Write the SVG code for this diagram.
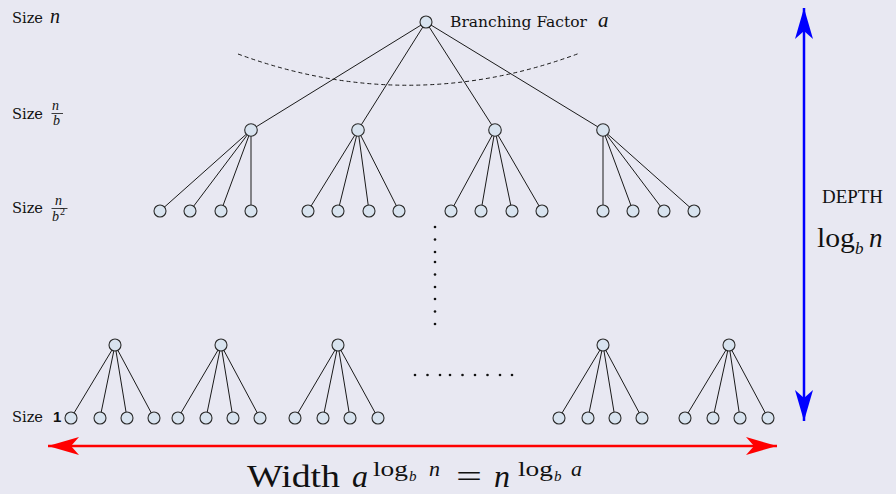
<svg xmlns="http://www.w3.org/2000/svg" width="896" height="494" viewBox="0 0 896 494">
<defs>
<style>
.edge{stroke:#1a1a1a;stroke-width:1;fill:none}
.node{fill:#d8e3ef;stroke:#2a2a2a;stroke-width:1.1}
.lbl{font-family:"DejaVu Serif","Liberation Serif",serif;font-size:15px;fill:#111}
.math{font-family:"Liberation Serif","DejaVu Serif",serif;fill:#111}
.it{font-style:italic}
.dot{fill:#111}
</style>
<marker id="ared" viewBox="0 -10 32 20" refX="31" refY="0" markerWidth="32" markerHeight="20" markerUnits="userSpaceOnUse" orient="auto-start-reverse">
<path d="M31 0 L0 -9 L8 0 L0 9 Z" fill="#ff0000"/>
</marker>
<marker id="ablue" viewBox="0 -10 32 20" refX="31" refY="0" markerWidth="32" markerHeight="20" markerUnits="userSpaceOnUse" orient="auto-start-reverse">
<path d="M31 0 L0 -9 L8 0 L0 9 Z" fill="#0000ff"/>
</marker>
</defs>
<rect width="896" height="494" fill="#e8e8f2"/>

<g id="connectors">
<path class="edge" d="M238 54 Q409 117 580 53" stroke-dasharray="4 3"/>
<line class="edge" x1="426" y1="22" x2="251" y2="130"/>
<line class="edge" x1="426" y1="22" x2="358" y2="130"/>
<line class="edge" x1="426" y1="22" x2="495" y2="130"/>
<line class="edge" x1="426" y1="22" x2="603" y2="130"/>
<line class="edge" x1="251" y1="130" x2="160" y2="211"/>
<line class="edge" x1="251" y1="130" x2="190" y2="211"/>
<line class="edge" x1="251" y1="130" x2="221" y2="211"/>
<line class="edge" x1="251" y1="130" x2="251" y2="211"/>
<line class="edge" x1="358" y1="130" x2="308" y2="211"/>
<line class="edge" x1="358" y1="130" x2="338" y2="211"/>
<line class="edge" x1="358" y1="130" x2="369" y2="211"/>
<line class="edge" x1="358" y1="130" x2="399" y2="211"/>
<line class="edge" x1="495" y1="130" x2="451" y2="211"/>
<line class="edge" x1="495" y1="130" x2="481" y2="211"/>
<line class="edge" x1="495" y1="130" x2="512" y2="211"/>
<line class="edge" x1="495" y1="130" x2="542" y2="211"/>
<line class="edge" x1="603" y1="130" x2="603" y2="211"/>
<line class="edge" x1="603" y1="130" x2="633" y2="211"/>
<line class="edge" x1="603" y1="130" x2="664" y2="211"/>
<line class="edge" x1="603" y1="130" x2="694" y2="211"/>
<line class="edge" x1="115" y1="345" x2="71" y2="418"/>
<line class="edge" x1="115" y1="345" x2="100" y2="418"/>
<line class="edge" x1="115" y1="345" x2="127" y2="418"/>
<line class="edge" x1="115" y1="345" x2="154" y2="418"/>
<line class="edge" x1="221" y1="345" x2="178" y2="418"/>
<line class="edge" x1="221" y1="345" x2="206" y2="418"/>
<line class="edge" x1="221" y1="345" x2="233" y2="418"/>
<line class="edge" x1="221" y1="345" x2="260" y2="418"/>
<line class="edge" x1="338" y1="345" x2="295" y2="418"/>
<line class="edge" x1="338" y1="345" x2="323" y2="418"/>
<line class="edge" x1="338" y1="345" x2="350" y2="418"/>
<line class="edge" x1="338" y1="345" x2="378" y2="418"/>
<line class="edge" x1="603" y1="345" x2="559" y2="418"/>
<line class="edge" x1="603" y1="345" x2="588" y2="418"/>
<line class="edge" x1="603" y1="345" x2="615" y2="418"/>
<line class="edge" x1="603" y1="345" x2="642" y2="418"/>
<line class="edge" x1="729" y1="345" x2="685" y2="418"/>
<line class="edge" x1="729" y1="345" x2="713" y2="418"/>
<line class="edge" x1="729" y1="345" x2="740" y2="418"/>
<line class="edge" x1="729" y1="345" x2="768" y2="418"/>
<line x1="48" y1="446" x2="777" y2="446" stroke="#ff0000" stroke-width="2.5" marker-start="url(#ared)" marker-end="url(#ared)"/>
<line x1="804" y1="8" x2="804" y2="421" stroke="#0000ff" stroke-width="2.5" marker-start="url(#ablue)" marker-end="url(#ablue)"/>
</g>

<g id="dots">
<circle class="dot" cx="435" cy="227" r="1.3"/><circle class="dot" cx="435" cy="239.5" r="1.3"/><circle class="dot" cx="435" cy="252" r="1.3"/>
<circle class="dot" cx="435" cy="262" r="1.3"/><circle class="dot" cx="435" cy="274.5" r="1.3"/><circle class="dot" cx="435" cy="287" r="1.3"/>
<circle class="dot" cx="435" cy="299" r="1.3"/><circle class="dot" cx="435" cy="311.5" r="1.3"/><circle class="dot" cx="435" cy="324" r="1.3"/>
<circle class="dot" cx="415" cy="375" r="1.3"/><circle class="dot" cx="427.5" cy="375" r="1.3"/><circle class="dot" cx="440" cy="375" r="1.3"/>
<circle class="dot" cx="450" cy="375" r="1.3"/><circle class="dot" cx="462.5" cy="375" r="1.3"/><circle class="dot" cx="475" cy="375" r="1.3"/>
<circle class="dot" cx="487.5" cy="375" r="1.3"/><circle class="dot" cx="500" cy="375" r="1.3"/><circle class="dot" cx="512" cy="375" r="1.3"/>
</g>

<g id="root"><circle class="node" cx="426" cy="22" r="6"/></g>
<g id="l1a"><circle class="node" cx="251" cy="130" r="6.3"/></g>
<g id="l1b"><circle class="node" cx="358" cy="130" r="6.3"/></g>
<g id="l1c"><circle class="node" cx="495" cy="130" r="6.3"/></g>
<g id="l1d"><circle class="node" cx="603" cy="130" r="6.3"/></g>
<g id="l2a1"><circle class="node" cx="160" cy="211" r="6"/></g>
<g id="l2a2"><circle class="node" cx="190" cy="211" r="6"/></g>
<g id="l2a3"><circle class="node" cx="221" cy="211" r="6"/></g>
<g id="l2a4"><circle class="node" cx="251" cy="211" r="6"/></g>
<g id="l2b1"><circle class="node" cx="308" cy="211" r="6"/></g>
<g id="l2b2"><circle class="node" cx="338" cy="211" r="6"/></g>
<g id="l2b3"><circle class="node" cx="369" cy="211" r="6"/></g>
<g id="l2b4"><circle class="node" cx="399" cy="211" r="6"/></g>
<g id="l2c1"><circle class="node" cx="451" cy="211" r="6"/></g>
<g id="l2c2"><circle class="node" cx="481" cy="211" r="6"/></g>
<g id="l2c3"><circle class="node" cx="512" cy="211" r="6"/></g>
<g id="l2c4"><circle class="node" cx="542" cy="211" r="6"/></g>
<g id="l2d1"><circle class="node" cx="603" cy="211" r="6"/></g>
<g id="l2d2"><circle class="node" cx="633" cy="211" r="6"/></g>
<g id="l2d3"><circle class="node" cx="664" cy="211" r="6"/></g>
<g id="l2d4"><circle class="node" cx="694" cy="211" r="6"/></g>
<g id="bp1"><circle class="node" cx="115" cy="345" r="6"/></g>
<g id="bp2"><circle class="node" cx="221" cy="345" r="6"/></g>
<g id="bp3"><circle class="node" cx="338" cy="345" r="6"/></g>
<g id="bp4"><circle class="node" cx="603" cy="345" r="6"/></g>
<g id="bp5"><circle class="node" cx="729" cy="345" r="6"/></g>
<g id="bl1"><circle class="node" cx="71" cy="418" r="6"/></g>
<g id="bl2"><circle class="node" cx="100" cy="418" r="6"/></g>
<g id="bl3"><circle class="node" cx="127" cy="418" r="6"/></g>
<g id="bl4"><circle class="node" cx="154" cy="418" r="6"/></g>
<g id="bl5"><circle class="node" cx="178" cy="418" r="6"/></g>
<g id="bl6"><circle class="node" cx="206" cy="418" r="6"/></g>
<g id="bl7"><circle class="node" cx="233" cy="418" r="6"/></g>
<g id="bl8"><circle class="node" cx="260" cy="418" r="6"/></g>
<g id="bl9"><circle class="node" cx="295" cy="418" r="6"/></g>
<g id="bl10"><circle class="node" cx="323" cy="418" r="6"/></g>
<g id="bl11"><circle class="node" cx="350" cy="418" r="6"/></g>
<g id="bl12"><circle class="node" cx="378" cy="418" r="6"/></g>
<g id="bl13"><circle class="node" cx="559" cy="418" r="6"/></g>
<g id="bl14"><circle class="node" cx="588" cy="418" r="6"/></g>
<g id="bl15"><circle class="node" cx="615" cy="418" r="6"/></g>
<g id="bl16"><circle class="node" cx="642" cy="418" r="6"/></g>
<g id="bl17"><circle class="node" cx="685" cy="418" r="6"/></g>
<g id="bl18"><circle class="node" cx="713" cy="418" r="6"/></g>
<g id="bl19"><circle class="node" cx="740" cy="418" r="6"/></g>
<g id="bl20"><circle class="node" cx="768" cy="418" r="6"/></g>

<g id="label-branching">
<text class="lbl" x="450" y="27" textLength="137" lengthAdjust="spacingAndGlyphs">Branching Factor</text>
<text class="math it" x="598" y="27" font-size="21">a</text>
</g>
<g id="label-size-n">
<text class="lbl" x="12" y="23" textLength="31" lengthAdjust="spacingAndGlyphs">Size</text>
<text class="math it" x="50" y="23" font-size="20">n</text>
</g>
<g id="label-size-nb">
<text class="lbl" x="12" y="119" textLength="31" lengthAdjust="spacingAndGlyphs">Size</text>
<text class="math it" x="52" y="110" font-size="14">n</text>
<line x1="51.5" y1="113.5" x2="63" y2="113.5" stroke="#111" stroke-width="0.8"/>
<text class="math it" x="53" y="125" font-size="14">b</text>
</g>
<g id="label-size-nb2">
<text class="lbl" x="12" y="213" textLength="31" lengthAdjust="spacingAndGlyphs">Size</text>
<text class="math it" x="55" y="205" font-size="14">n</text>
<line x1="51.5" y1="208.5" x2="67.5" y2="208.5" stroke="#111" stroke-width="0.8"/>
<text class="math it" x="52" y="221" font-size="14">b</text>
<text class="math" x="60" y="215" font-size="10">2</text>
</g>
<g id="label-size-1">
<text class="lbl" x="12" y="422" textLength="31" lengthAdjust="spacingAndGlyphs">Size</text>
<text x="53" y="422" font-family="Liberation Sans, Arial, sans-serif" font-size="15" font-weight="bold" fill="#111">1</text>
</g>
<g id="label-depth">
<text class="math" x="822" y="203" font-size="19" textLength="61" lengthAdjust="spacingAndGlyphs">DEPTH</text>
<text class="math" x="817" y="247" font-size="27" textLength="38" lengthAdjust="spacingAndGlyphs">log</text>
<text class="math it" x="855" y="254" font-size="17">b</text>
<text class="math it" x="869" y="247" font-size="27">n</text>
</g>
<g id="label-width">
<text class="math" x="247" y="487" font-size="32" textLength="93" lengthAdjust="spacingAndGlyphs">Width</text>
<text class="math it" x="352" y="487" font-size="32">a</text>
<text class="math" x="373" y="476" font-size="22" textLength="35" lengthAdjust="spacingAndGlyphs">log</text>
<text class="math it" x="409" y="481" font-size="15">b</text>
<text class="math it" x="429" y="476" font-size="22">n</text>
<text class="math" x="456" y="487" font-size="32" textLength="26" lengthAdjust="spacingAndGlyphs">=</text>
<text class="math it" x="494" y="487" font-size="32">n</text>
<text class="math" x="518" y="476" font-size="22" textLength="35" lengthAdjust="spacingAndGlyphs">log</text>
<text class="math it" x="554" y="481" font-size="15">b</text>
<text class="math it" x="571" y="476" font-size="22">a</text>
</g>
</svg>
